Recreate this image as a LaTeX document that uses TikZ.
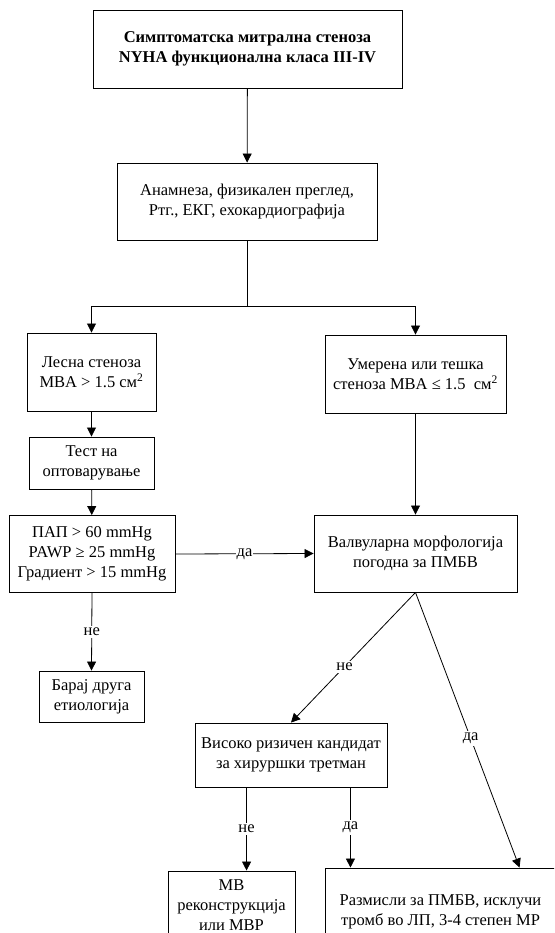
\documentclass[tikz,border=0pt]{standalone}
\usepackage{fontspec}
\setmainfont{Liberation Serif}
\usetikzlibrary{arrows.meta,calc}

\begin{document}
\begin{tikzpicture}[x=1pt,y=-1pt,
  every node/.style={font=\fontsize{16.5}{20}\selectfont},
  box/.style={draw=black,line width=0.9pt,rectangle,align=center,inner sep=0pt},
  conn/.style={line width=0.8pt},
  arr/.style={conn,-{Triangle[length=9pt,width=9pt]}},
  lbl/.style={fill=white,inner sep=2pt}
]
\useasboundingbox (0,0) rectangle (554,933);
\clip (0,0) rectangle (554,933);

% boxes
\node[box,minimum width=309pt,minimum height=78pt] (top) at (247.5,49)
  {\bfseries Симптоматска митрална стеноза\\\bfseries NYHA функционална класа III-IV};
\node[box,minimum width=260pt,minimum height=77pt] (exam) at (247,201.5)
  {Анамнеза, физикален преглед,\\Ртг., ЕКГ, ехокардиографија};
\node[box,minimum width=129pt,minimum height=78pt] (mild) at (91.5,372)
  {Лесна стеноза\\MBA > 1.5 см\textsuperscript{2}};
\node[box,minimum width=181pt,minimum height=78pt] (severe) at (415.5,374)
  {Умерена или тешка\\стеноза MBA ≤ 1.5\ \ см\textsuperscript{2}};
\node[box,minimum width=125pt,minimum height=52pt] (stress) at (91.5,463)
  {Тест на\\оптоварување};
\node[box,minimum width=166pt,minimum height=77pt] (press) at (92,554)
  {ПАП > 60 mmHg\\PAWP ≥ 25 mmHg\\Градиент > 15 mmHg};
\node[box,minimum width=203pt,minimum height=77pt] (morph) at (415.5,553.5)
  {Валвуларна морфологија\\погодна за ПМБВ};
\node[box,minimum width=105pt,minimum height=51pt] (other) at (91.5,696.5)
  {Барај друга\\етиологија};
\node[box,minimum width=192pt,minimum height=64pt] (risk) at (291,755)
  {Високо ризичен кандидат\\за хируршки третман};
\node[box,minimum width=127pt,minimum height=68pt] (mvr) at (231.5,905)
  {МВ\\реконструкција\\или МВР};
\node[box,minimum width=231pt,minimum height=88pt] (pmbv) at (440.5,912)
  {Размисли за ПМБВ, исклучи\\тромб во ЛП, 3-4 степен МР};

% connectors
\draw[arr] (top) -- (exam);
\coordinate (split) at (247,306);
\draw[conn] (exam.south) -- (split);
\draw[arr] (split) -| (mild.north);
\draw[arr] (split) -| (severe.north);
\draw[arr] (mild) -- (stress);
\draw[arr] (stress) -- (press);
\draw[arr] (severe) -- (morph);
\draw[arr] (press.east) -- node[lbl,inner xsep=1pt] {да} (morph.west);
\draw[arr] (press.south) -- node[lbl] {не} (other.north);

\coordinate (pmbvin) at ($(pmbv.north west)+(195,0)$);
\draw[arr] (morph.south) -- node[lbl,pos=0.57] {не} (risk.north);
\draw[arr] (morph.south) -- node[lbl,pos=0.53] {да} (pmbvin);

\coordinate (riskno) at ($(risk.south west)+(52,0)$);
\coordinate (riskyes) at ($(risk.south east)+(-37,0)$);
\draw[arr] (riskno) -- node[lbl] {не} (riskno |- mvr.north);
\draw[arr] (riskyes) -- node[lbl] {да} (riskyes |- pmbv.north);
\end{tikzpicture}
\end{document}
